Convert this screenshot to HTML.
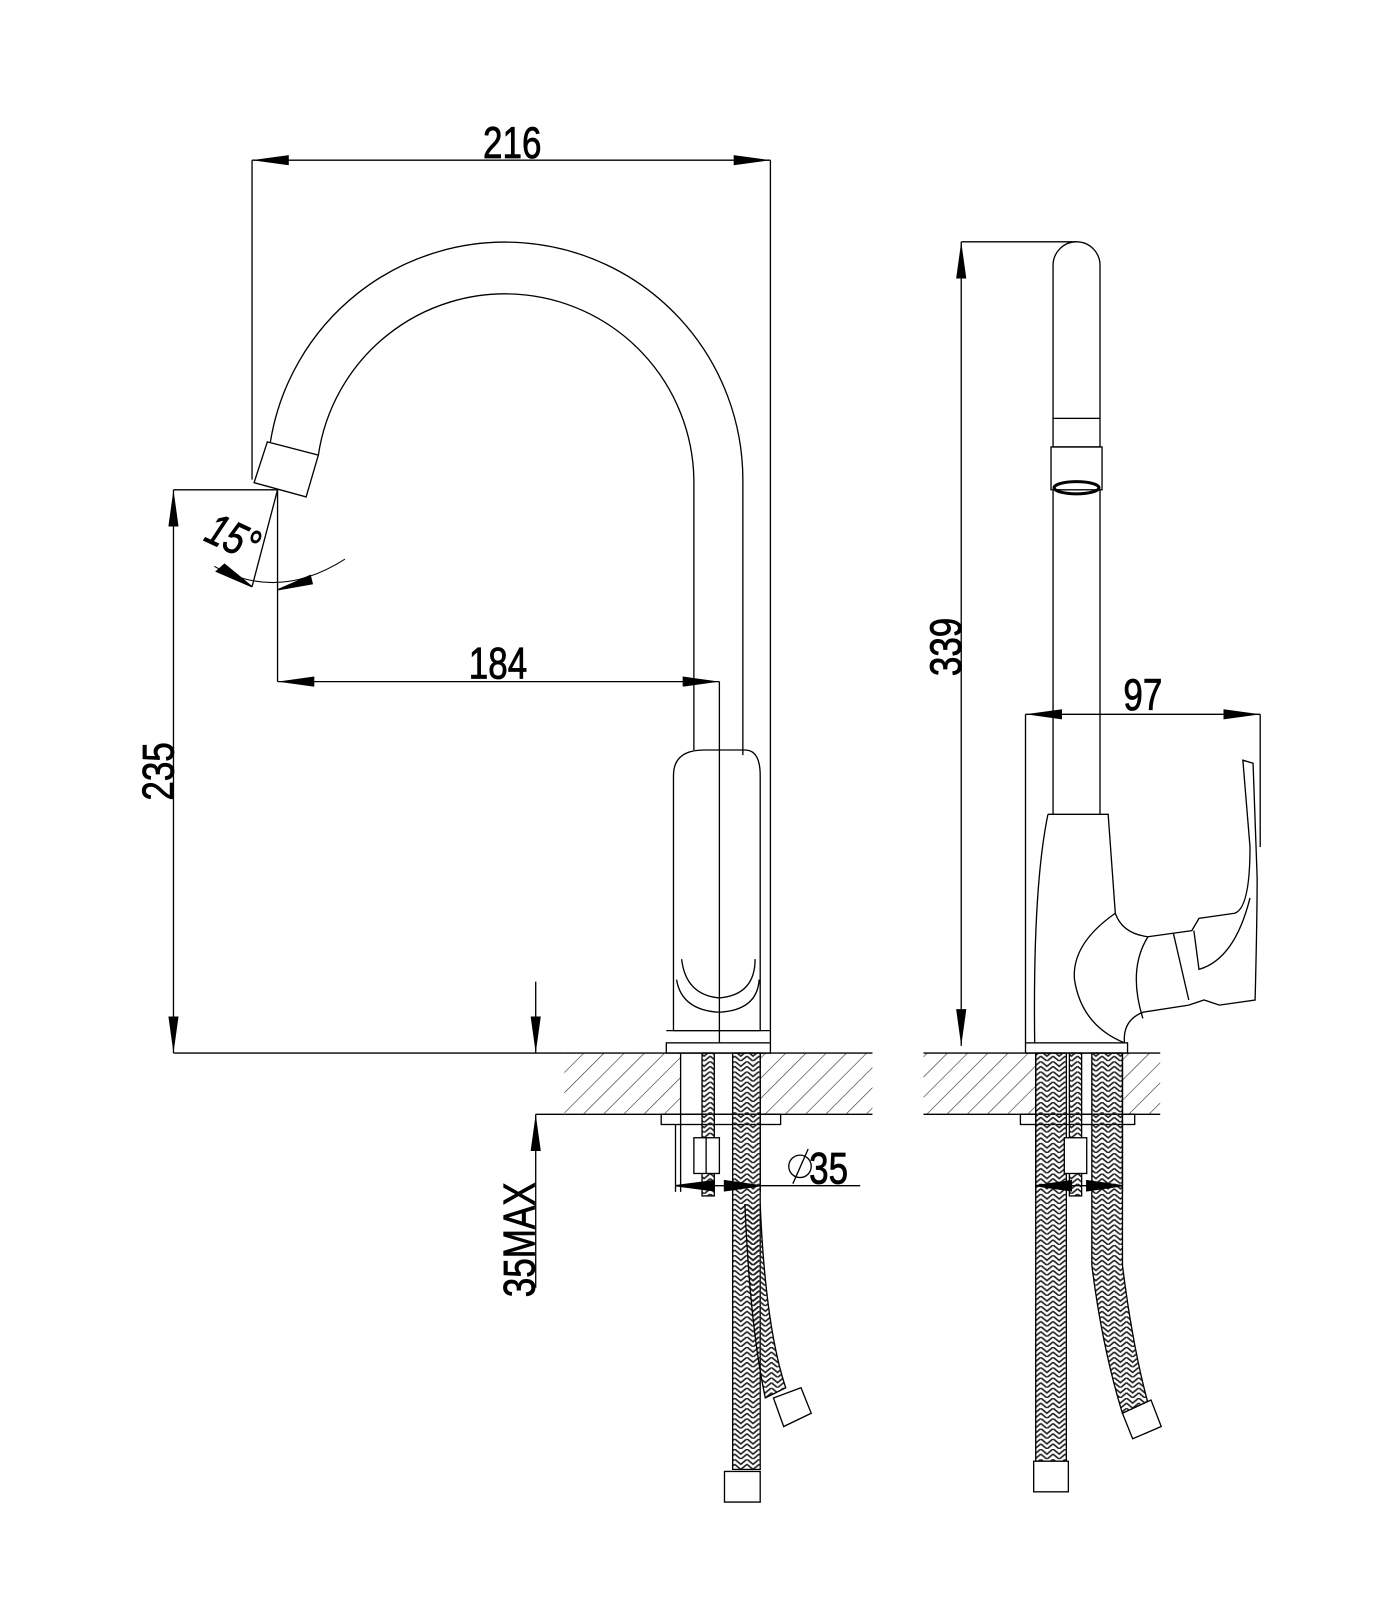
<!DOCTYPE html>
<html><head><meta charset="utf-8"><style>html,body{margin:0;padding:0;background:#fff}svg{display:block}
text{font-family:"Liberation Sans",sans-serif;font-size:44px;fill:#000;stroke:#000;stroke-width:0.8}</style></head>
<body>
<svg width="1400" height="1600" viewBox="0 0 1372 1568" xmlns="http://www.w3.org/2000/svg">
<defs>
<marker id="a" viewBox="0 0 36 10" refX="36" refY="5" markerWidth="36" markerHeight="10" markerUnits="userSpaceOnUse" orient="auto-start-reverse"><path d="M0,0 L36,5 L0,10 Z" fill="#000"/></marker>
<pattern id="h" width="14" height="14" patternUnits="userSpaceOnUse" patternTransform="rotate(45)"><line x1="0" y1="0" x2="0" y2="14" stroke="#333" stroke-width="1.2"/></pattern>
<pattern id="hb" width="12" height="10" patternUnits="userSpaceOnUse"><path d="M0,0 L6,5 L12,0 M0,5 L6,10 L12,5" stroke="#222" fill="none" stroke-width="1.6"/></pattern>
</defs>
<g fill="none" stroke="#000" stroke-width="1.3">
<line x1="247" y1="157" x2="755" y2="157" marker-start="url(#a)" marker-end="url(#a)"/>
<line x1="247" y1="157" x2="247" y2="470"/>
<line x1="755" y1="157" x2="755" y2="1022"/>
<path d="M265,433 A233,233 0 0 1 728,470 L728,740"/>
<path d="M312,446 A185,185 0 0 1 680,470 L680,735"/>
<path d="M262,433 L312,446 L300,487 L249,473 Z" fill="#fff"/>
<line x1="170" y1="480" x2="272" y2="480"/>
<line x1="272" y1="480" x2="272" y2="668"/>
<line x1="272" y1="480" x2="247" y2="575"/>
<path d="M210,555 Q272,590 338,548" stroke-width="1"/>
<path d="M212,560 L247,575 L220,553 Z" fill="#000"/>
<path d="M306,572 L272,578 L304,564 Z" fill="#000"/>
<line x1="170" y1="480" x2="170" y2="1032" marker-start="url(#a)" marker-end="url(#a)"/>
<line x1="170" y1="1032" x2="553" y2="1032"/>
<line x1="272" y1="668" x2="705" y2="668" marker-start="url(#a)" marker-end="url(#a)"/>
<line x1="705" y1="668" x2="705" y2="1022"/>
<path d="M660,1010 L660,760 Q660,735 690,735 L730,735 Q745,735 745,760 L745,1010 Z"/>
<path d="M668,940 Q672,975 705,978 Q740,975 740,940"/>
<path d="M663,960 Q668,990 705,992 Q742,990 744,960"/>
<rect x="653" y="1022" width="102" height="10"/>
<line x1="653" y1="1010" x2="755" y2="1010"/>
<rect x="553" y="1032" width="114" height="60" fill="url(#h)" stroke="none"/>
<rect x="745" y="1032" width="110" height="60" fill="url(#h)" stroke="none"/>
<line x1="553" y1="1032" x2="855" y2="1032"/>
<line x1="553" y1="1092" x2="855" y2="1092"/>
<line x1="667" y1="1032" x2="667" y2="1168"/>
<line x1="745" y1="1032" x2="745" y2="1168"/>
<rect x="648" y="1092" width="117" height="10"/>
<rect x="688" y="1032" width="12" height="140" fill="url(#hb)"/>
<rect x="680" y="1115" width="25" height="35" fill="#fff"/>
<line x1="692" y1="1115" x2="692" y2="1150"/>
<path d="M718,1032 L745,1032 L745,1440 L718,1440 Z" fill="url(#hb)"/>
<path d="M730,1180 Q735,1300 750,1370 L770,1360 Q750,1300 745,1180" fill="url(#hb)"/>
<path d="M710,1442 L745,1442 L745,1472 L710,1472 Z" fill="#fff"/>
<path d="M758,1370 L785,1360 L795,1385 L768,1398 Z" fill="#fff"/>
<line x1="662" y1="1162" x2="843" y2="1162"/>
<line x1="662" y1="1102" x2="662" y2="1168"/>
<path d="M662,1162 L700,1157 L700,1167 Z" fill="#000"/>
<path d="M745,1162 L710,1157 L710,1167 Z" fill="#000"/>
<circle cx="784" cy="1143" r="11"/><line x1="777" y1="1160" x2="792" y2="1126"/>
<line x1="525" y1="962" x2="525" y2="1032" marker-end="url(#a)"/>
<line x1="525" y1="1262" x2="525" y2="1092" marker-end="url(#a)"/>
<line x1="525" y1="1092" x2="553" y2="1092"/>
<line x1="942" y1="237" x2="942" y2="1025" marker-start="url(#a)" marker-end="url(#a)"/>
<line x1="942" y1="237" x2="1055" y2="237"/>
<path d="M1032,410 L1032,260 A23,23 0 0 1 1078,260 L1078,410"/>
<rect x="1032" y="410" width="46" height="28"/>
<rect x="1030" y="438" width="50" height="42"/>
<ellipse cx="1055" cy="478" rx="22" ry="6" stroke-width="3"/>
<line x1="1032" y1="480" x2="1032" y2="798"/>
<line x1="1078" y1="480" x2="1078" y2="798"/>
<line x1="1005" y1="700" x2="1235" y2="700" marker-start="url(#a)" marker-end="url(#a)"/>
<line x1="1005" y1="700" x2="1005" y2="1022"/>
<line x1="1235" y1="700" x2="1235" y2="830"/>
<path d="M1027,798 L1086,798 L1093,895 Q1100,915 1125,918 L1168,912 L1175,900 L1210,895 Q1225,890 1225,830 L1218,745 L1228,748 L1232,860 Q1232,900 1230,980 L1195,985 L1180,980 L1165,985 L1120,992 Q1100,1000 1102,1022"/>
<path d="M1093,895 Q1050,925 1053,960 Q1060,1005 1102,1022"/>
<path d="M1125,918 Q1105,950 1120,998"/>
<path d="M1150,915 L1165,980"/>
<path d="M1170,912 L1175,950 Q1210,940 1225,880"/>
<path d="M1027,798 Q1012,870 1014,1022"/>
<rect x="1005" y="1022" width="100" height="10"/>
<rect x="905" y="1032" width="110" height="60" fill="url(#h)" stroke="none"/>
<rect x="1100" y="1032" width="37" height="60" fill="url(#h)" stroke="none"/>
<line x1="905" y1="1032" x2="1137" y2="1032"/>
<line x1="905" y1="1092" x2="1137" y2="1092"/>
<line x1="1015" y1="1032" x2="1015" y2="1168"/>
<line x1="1100" y1="1032" x2="1100" y2="1168"/>
<rect x="1000" y="1092" width="112" height="10"/>
<rect x="1015" y="1032" width="30" height="400" fill="url(#hb)"/>
<path d="M1070,1032 L1100,1032 L1100,1240 Q1110,1320 1125,1375 L1100,1385 Q1080,1320 1070,1240 Z" fill="url(#hb)"/>
<rect x="1048" y="1032" width="12" height="140" fill="url(#hb)"/>
<rect x="1043" y="1115" width="22" height="35" fill="#fff"/>
<rect x="1013" y="1432" width="34" height="30" fill="#fff"/>
<path d="M1100,1385 L1128,1372 L1138,1398 L1110,1410 Z" fill="#fff"/>
<line x1="1015" y1="1162" x2="1100" y2="1162"/>
<path d="M1015,1162 L1050,1157 L1050,1167 Z" fill="#000"/>
<path d="M1100,1162 L1065,1157 L1065,1167 Z" fill="#000"/>
</g>
<text transform="translate(502,155) scale(0.78,1)" text-anchor="middle">216</text>
<text transform="translate(488,665) scale(0.78,1)" text-anchor="middle">184</text>
<text transform="translate(1120,696) scale(0.78,1)" text-anchor="middle">97</text>
<text transform="translate(812,1160) scale(0.78,1)" text-anchor="middle">35</text>
<text transform="translate(170,756) rotate(-90) scale(0.78,1)" text-anchor="middle">235</text>
<text transform="translate(942,634) rotate(-90) scale(0.78,1)" text-anchor="middle">339</text>
<text transform="translate(524,1215) rotate(-90) scale(0.78,1)" text-anchor="middle">35MAX</text>
<text transform="translate(222,540) rotate(25) scale(0.78,1)" text-anchor="middle" font-style="italic">15°</text>
</svg>
</body></html>
